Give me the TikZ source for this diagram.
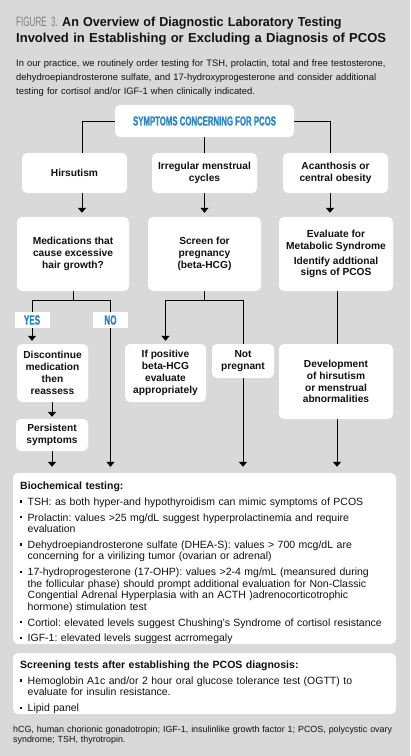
\documentclass[tikz,border=0pt]{standalone}
\usepackage{fontspec}
\usepackage{graphicx}
\setmainfont{Liberation Sans}
\newfontfamily\condfont[FakeStretch=0.6, BoldFeatures={FakeBold=1.2}]{Liberation Sans}
\usetikzlibrary{arrows.meta}
\definecolor{bggray}{HTML}{D9D9D9}
\definecolor{hdblue}{HTML}{2F86C0}
\definecolor{figgray}{HTML}{7F7F7F}
\definecolor{txt}{HTML}{111111}
\newcommand\bitem[1]{\par\noindent\hbox to 7.5pt{\raisebox{2.8pt}{\rule{2.2pt}{2.2pt}}\hfil}\parbox[t]{366pt}{\raggedright\frenchspacing\strut #1\strut}\par}
\pgfdeclarelayer{bglayer}
\pgfdeclarelayer{linelayer}
\pgfsetlayers{bglayer,linelayer,main}
\tikzset{
  box/.style={fill=white, rounded corners=5pt, inner sep=0pt, align=center,
    font=\fontsize{10.2}{11.8}\selectfont\bfseries, text=txt},
  lbl/.style={fill=white, inner sep=0pt, minimum width=35pt, minimum height=16pt,
    font=\condfont\fontsize{13.5}{14}\selectfont\bfseries, text=hdblue},
  conn/.style={line width=1pt, draw=black},
  arr/.style={conn, -{Triangle[length=5pt,width=8pt]}},
  bodytxt/.style={inner sep=0pt, align=left, text=txt}
}
\begin{document}
\begin{tikzpicture}[x=1pt,y=-1pt]
\useasboundingbox (0,0) rectangle (411,756);
\begin{pgfonlayer}{bglayer}
\fill[white] (0,0) rectangle (411,756);
\fill[bggray] (0,0) rectangle (409.5,756);
\end{pgfonlayer}

% title and intro
\node[bodytxt, anchor=base west, text width=395pt, font=\fontsize{13}{16}\selectfont\bfseries] (title) at (16,26.7)
 {{\condfont\mdseries\fontsize{13.5}{16}\selectfont\color{figgray}FIGURE 3.}\ \scalebox{0.968}[1]{An Overview of Diagnostic Laboratory Testing}\\Involved in Establishing or Excluding a Diagnosis of PCOS};
\node[bodytxt, anchor=base west, text width=395pt, font=\fontsize{9.4}{14}\selectfont] (intro) at (16,66)
 {In our practice, we routinely order testing for TSH, prolactin, total and free testosterone,\\dehydroepiandrosterone sulfate, and 17-hydroxyprogesterone and consider additional\\testing for cortisol and/or IGF-1 when clinically indicated.};

% flow boxes
\node[box, minimum width=179pt, minimum height=32pt] (top) at (204.5,121)
 {\condfont\fontsize{13}{14}\selectfont\bfseries\color{hdblue}SYMPTOMS CONCERNING FOR PCOS};
\node[box, minimum width=105pt, minimum height=40pt] (hir) at (74.5,173) {Hirsutism};
\node[box, minimum width=105pt, minimum height=40pt] (irr) at (204.5,173) {Irregular menstrual\\cycles};
\node[box, minimum width=105pt, minimum height=40pt] (acan) at (335.5,173) {Acanthosis or\\central obesity};

\node[box, minimum width=112pt, minimum height=74pt] (med) at (73,254) {Medications that\\cause excessive\\hair growth?};
\node[box, minimum width=113pt, minimum height=74pt] (scr) at (204.5,254) {Screen for\\pregnancy\\(beta-HCG)};
\node[box, minimum width=114pt, minimum height=74pt] (eval) at (336,254) {Evaluate for\\Metabolic Syndrome\\[3pt]Identify addtional\\signs of PCOS};

\node[box, minimum width=71pt, minimum height=58pt] (disc) at (52.5,373) {Discontinue\\medication\\then\\reassess};
\node[box, minimum width=81pt, minimum height=58pt] (ifpos) at (165.5,373) {If positive\\beta-HCG\\evaluate\\appropriately};
\node[box, minimum width=62pt, minimum height=34pt] (notp) at (243,361) {Not\\pregnant};
\node[box, minimum width=114pt, minimum height=75pt] (dev) at (336,381.5) {Development\\of hirsutism\\or menstrual\\abnormalities};
\node[box, minimum width=72pt, minimum height=32pt] (pers) at (52,435) {Persistent\\symptoms};

\node[box, minimum width=383pt, minimum height=171pt] (big) at (204.5,558.5) {};
\node[box, minimum width=383pt, minimum height=61pt] (scrn) at (204.5,683.5) {};

\node[lbl] (yes) at (32,320) {YES};
\node[lbl] (no) at (110.5,320) {NO};

\coordinate (br) at (0,300);

% connectors
\begin{pgfonlayer}{linelayer}
\draw[conn] (top.west) -| ([xshift=7.5pt]hir.north);
\draw[conn] (top.east) -| ([xshift=-5.5pt]acan.north);
\draw[conn] (top.south) -- (irr.north);
\draw[arr, shorten >=4pt] ([xshift=7.5pt]hir.south) -- ([xshift=7.5pt]hir.south |- med.north);
\draw[arr, shorten >=4pt] (irr.south) -- (scr.north);
\draw[arr, shorten >=4pt] ([xshift=-5.5pt]acan.south) -- ([xshift=-5.5pt]acan.south |- eval.north);

\draw[conn] (med.south) -- (med.south |- br);
\draw[conn] (yes.center |- br) -- (no.center |- br);
\draw[arr, shorten >=3pt] (yes.center |- br) -- (yes.center |- disc.north);
\draw[arr, shorten >=6pt] (no.center |- br) -- (no.center |- big.north);

\draw[conn] (scr.south) -- (scr.south |- br);
\draw[conn] (ifpos.north |- br) -- (notp.north |- br);
\draw[arr, shorten >=3pt] (ifpos.north |- br) -- (ifpos.north);
\draw[conn] (notp.north |- br) -- (notp.north);
\draw[conn] ([xshift=1pt]eval.south) -- ([xshift=1pt]eval.south |- dev.north);

\draw[arr, shorten >=2pt] (pers.north |- disc.south) -- (pers.north);
\draw[arr, shorten >=6pt] (pers.south) -- (pers.south |- big.north);
\draw[arr, shorten >=6pt] (notp.south) -- (notp.south |- big.north);
\draw[arr, shorten >=6pt] ([xshift=1pt]dev.south) -- ([xshift=1pt]dev.south |- big.north);
\end{pgfonlayer}

% box texts
\node[bodytxt, anchor=base west, text width=374pt, font=\fontsize{10.5}{11.5}\selectfont] (bigtxt) at (20,489.5)
 {\raggedright\parskip=4.3pt\lineskip=0pt\lineskiplimit=0pt
 \noindent\textbf{Biochemical testing:}\par
 \bitem{TSH: as both hyper-and hypothyroidism can mimic symptoms of PCOS}
 \bitem{Prolactin: values >25 mg/dL suggest hyperprolactinemia and require\\evaluation}
 \bitem{Dehydroepiandrosterone sulfate (DHEA-S): values > 700 mcg/dL are\\concerning for a virilizing tumor (ovarian or adrenal)}
 \bitem{17-hydroprogesterone (17-OHP): values >2-4 mg/mL (meansured during\\the follicular phase) should prompt additional evaluation for Non-Classic\\Congential Adrenal Hyperplasia with an ACTH )adrenocorticotrophic\\hormone) stimulation test}
 \bitem{Cortiol: elevated levels suggest Chushing's Syndrome of cortisol resistance}
 \bitem{IGF-1: elevated levels suggest acrromegaly}};

\node[bodytxt, anchor=base west, text width=374pt, font=\fontsize{10.5}{11.5}\selectfont] (scrtxt) at (20,668.5)
 {\raggedright\parskip=4.3pt\lineskip=0pt\lineskiplimit=0pt
 \noindent\textbf{Screening tests after establishing the PCOS diagnosis:}\par
 \bitem{Hemoglobin A1c and/or 2 hour oral glucose tolerance test (OGTT) to\\evaluate for insulin resistance.}
 \bitem{Lipid panel}};

\node[bodytxt, anchor=base west, text width=398pt, font=\fontsize{8.9}{10.5}\selectfont] (foot) at (13,732)
 {hCG, human chorionic gonadotropin; IGF-1, insulinlike growth factor 1; PCOS, polycystic ovary\\syndrome; TSH, thyrotropin.};
\end{tikzpicture}
\end{document}
